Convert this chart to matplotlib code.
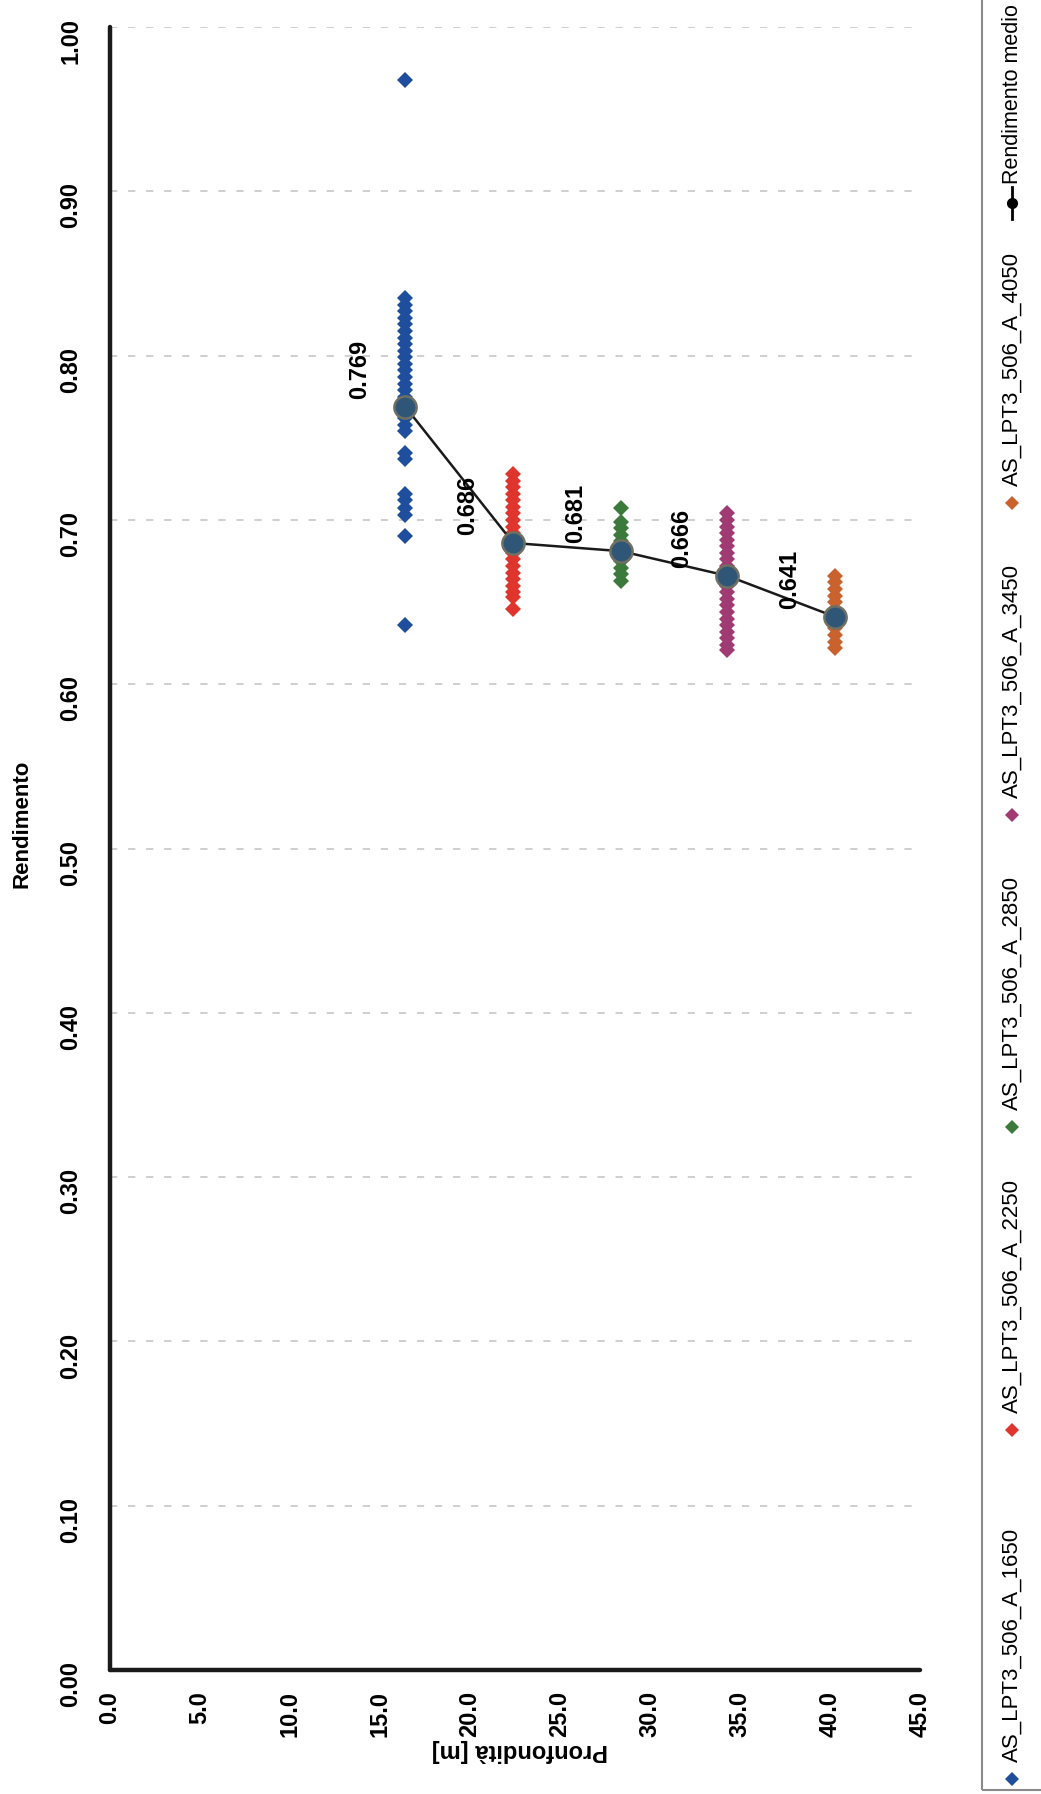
import matplotlib
matplotlib.use('Agg')
import matplotlib.pyplot as plt
from matplotlib.patches import Rectangle
import numpy as np

plt.rcParams['font.family'] = ['Liberation Sans', 'DejaVu Sans']

# depth of each series [m] and single yields
depths = [16.4, 22.4, 28.4, 34.3, 40.3]
names = ['AS_LPT3_506_A_1650', 'AS_LPT3_506_A_2250', 'AS_LPT3_506_A_2850',
         'AS_LPT3_506_A_3450', 'AS_LPT3_506_A_4050']
colors = ['#1f4f9c', '#e0352c', '#3b7a3a', '#a03a72', '#c9622c']

rend_1650 = [0.968, 0.835, 0.831, 0.827, 0.823, 0.819, 0.815, 0.811, 0.807, 0.803,
             0.799, 0.795, 0.791, 0.787, 0.783, 0.779, 0.775, 0.771, 0.766, 0.762,
             0.758, 0.754, 0.741, 0.737, 0.716, 0.712, 0.707, 0.703, 0.690, 0.636]
rend_2250 = [0.728, 0.724, 0.720, 0.716, 0.712, 0.708, 0.704, 0.700, 0.696, 0.692,
             0.688, 0.684, 0.680, 0.676, 0.672, 0.668, 0.664, 0.660, 0.656, 0.653, 0.646]
rend_2850 = [0.707, 0.699, 0.695, 0.691, 0.687, 0.683, 0.679, 0.675, 0.671, 0.667, 0.663]
rend_3450 = [0.704, 0.700, 0.696, 0.692, 0.688, 0.684, 0.680, 0.676, 0.672, 0.668,
             0.664, 0.660, 0.656, 0.652, 0.648, 0.644, 0.640, 0.636, 0.632, 0.628,
             0.624, 0.621]
rend_4050 = [0.666, 0.662, 0.658, 0.654, 0.650, 0.646, 0.642, 0.638, 0.634, 0.630,
             0.626, 0.622]
series = [rend_1650, rend_2250, rend_2850, rend_3450, rend_4050]

rend_medio = [0.769, 0.686, 0.681, 0.666, 0.641]

fig = plt.figure(figsize=(10.41, 17.94), dpi=100)
ax = fig.add_axes([0.1057, 0.0691, 0.7781, 0.9158])

ax.set_xlim(0, 45)
ax.set_ylim(0, 1)
ax.set_yticks(np.arange(0, 1.01, 0.1))
ax.set_xticks(np.arange(0, 45.1, 5))
ax.yaxis.grid(True, linestyle=(0, (4, 6)), color='#cccccc', lw=1.3)
ax.set_axisbelow(True)

for d, vals, c in zip(depths, series, colors):
    ax.plot([d] * len(vals), vals, 'D', color=c, ms=8.5, mew=0, zorder=3)

ax.plot(depths, rend_medio, '-', color='#1a1a1a', lw=1.8, zorder=4)
ax.plot(depths, rend_medio, 'o', ms=16, mfc='#2f5677', mec='#6f6f62', mew=1.8, zorder=5)

for d, v in zip(depths, rend_medio):
    ax.annotate('%.3f' % v, (d, v), xytext=(-34, 8), textcoords='offset pixels',
                rotation=90, ha='right', va='bottom', fontsize=17, fontweight='bold',
                zorder=6)

ax.set_xticklabels(['%.1f' % t for t in ax.get_xticks()], rotation=90,
                   fontsize=17, fontweight='bold')
ax.set_yticklabels(['%.2f' % t for t in ax.get_yticks()], rotation=90,
                   fontsize=17, fontweight='bold')
ax.tick_params(axis='x', length=0, pad=15)
ax.tick_params(axis='y', length=0, pad=20)

for s in ['top', 'right']:
    ax.spines[s].set_visible(False)
for s in ['left', 'bottom']:
    ax.spines[s].set_linewidth(3.2)
    ax.spines[s].set_color('#1a1a1a')
    ax.spines[s].set_capstyle('round')

fig.text(0.0211, 0.5407, 'Rendimento', rotation=90, ha='center', va='center',
         fontsize=16, fontweight='bold')
fig.text(0.4995, 0.0245, 'Pronfondità [m]', rotation=180, ha='center', va='center',
         fontsize=17, fontweight='bold')

# legend, rotated like the rest of the page
fig.patches.append(Rectangle((0.943, 0.0022), 0.2, 1.2, transform=fig.transFigure,
                             fill=False, edgecolor='#8a8a8a', lw=1.5))
leg_x = 0.9725
leg_y = [0.0084, 0.2029, 0.3718, 0.5457, 0.7196]
for y, name, c in zip(leg_y, names, colors):
    fig.lines.append(plt.Line2D([leg_x], [y], marker='D', ms=7, color=c, mew=0,
                                transform=fig.transFigure))
    fig.text(leg_x, y + 0.0095, name, rotation=90, ha='center', va='bottom',
             fontsize=16)
y_med = 0.8870
fig.lines.append(plt.Line2D([leg_x, leg_x], [y_med - 0.009, y_med + 0.009], color='black',
                            lw=2, transform=fig.transFigure))
fig.lines.append(plt.Line2D([leg_x], [y_med], marker='o', ms=7, color='black',
                            transform=fig.transFigure))
fig.text(leg_x, y_med + 0.0105, 'Rendimento medio', rotation=90, ha='center',
         va='bottom', fontsize=15.5)

fig.savefig('out.png', dpi=100)
